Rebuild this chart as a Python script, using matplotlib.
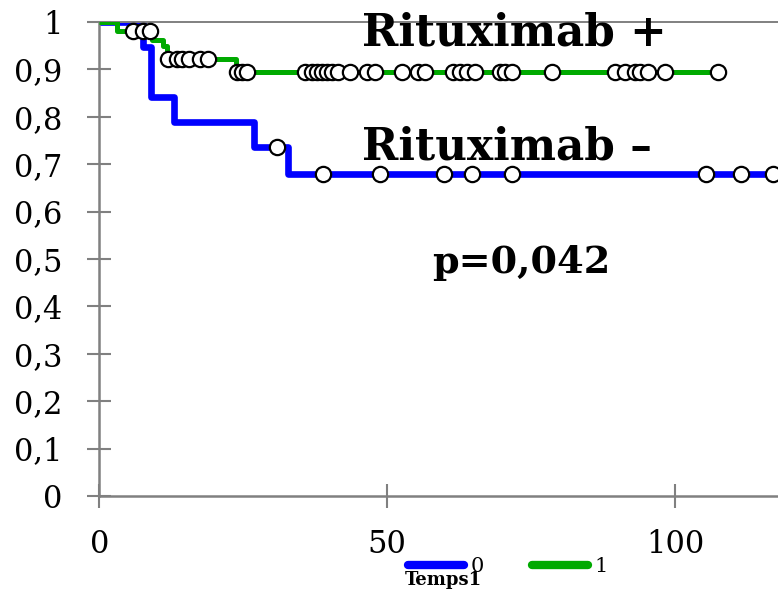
import matplotlib
matplotlib.use("Agg")
import matplotlib.pyplot as plt
from matplotlib.lines import Line2D
import numpy as np

plt.rcParams['font.family'] = ['DejaVu Serif']

# Group 0 (Rituximab -) : step times / survival
blue_times = [0, 7.6, 8.9, 12.9, 26.8, 32.8]
blue_surv = [1.0, 0.947, 0.842, 0.789, 0.737, 0.680]
blue_end = 121
blue_censor = [30.9, 38.8, 48.8, 59.8, 64.7, 71.6, 105.4, 111.4, 117.0]

# Group 1 (Rituximab +)
green_times = [0, 3.1, 9.15, 11.1, 11.7, 23.8]
green_surv = [1.0, 0.980, 0.961, 0.949, 0.921, 0.895]
green_end = 107.5
green_censor = [5.85, 7.6, 8.8, 11.9, 13.5, 14.4, 15.5, 17.5, 18.8, 24.0, 24.8,
                25.7, 35.8, 37.0, 37.8, 38.7, 39.6, 40.5, 41.5, 43.6, 46.5, 47.9,
                52.6, 55.4, 56.6, 61.5, 62.7, 63.9, 65.3, 69.6, 70.5, 71.7, 78.6,
                89.6, 91.3, 93.0, 93.9, 95.3, 98.3, 107.5]

yticks = [0, 0.1, 0.2, 0.3, 0.4, 0.5, 0.6, 0.7, 0.8, 0.9, 1.0]
ytick_labels = ["0", "0,1", "0,2", "0,3", "0,4", "0,5", "0,6", "0,7", "0,8", "0,9", "1"]
xticks = [0, 50, 100]
xtick_labels = ["0", "50", "100"]

BLUE = "#0000FF"
GREEN = "#00AA00"
GRAY = "#808080"

fig = plt.figure(figsize=(7.78, 5.90), dpi=100)
ax = fig.add_axes([99.3 / 778, 94 / 590, 1 - 99.3 / 778, 474 / 590])


def step_xy(times, surv, end):
    x = list(times) + [end]
    y = list(surv) + [surv[-1]]
    return x, y


def surv_at(times, surv, t):
    idx = np.searchsorted(times, t, side='right') - 1
    return np.array(surv)[idx]


bx, by = step_xy(blue_times, blue_surv, blue_end)
gx, gy = step_xy(green_times, green_surv, green_end)
ax.step(bx, by, where='post', color=BLUE, lw=4.8, solid_joinstyle='round',
        solid_capstyle='butt', zorder=2)
ax.step(gx, gy, where='post', color=GREEN, lw=3.6, solid_joinstyle='round',
        solid_capstyle='butt', zorder=3)

ax.plot(blue_censor, surv_at(blue_times, blue_surv, blue_censor), 'o', ms=11,
        mfc='white', mec='black', mew=1.6, zorder=4, clip_on=False)
ax.plot(green_censor, surv_at(green_times, green_surv, green_censor), 'o', ms=11,
        mfc='white', mec='black', mew=1.6, zorder=4, clip_on=False)

ax.set_xlim(0, 679 / 5.76)
ax.set_ylim(0, 1)
ax.set_yticks(yticks)
ax.set_yticklabels(ytick_labels)
ax.set_xticks(xticks)
ax.set_xticklabels(xtick_labels)

for s in ['left', 'bottom']:
    ax.spines[s].set_color(GRAY)
    ax.spines[s].set_linewidth(1.8)
ax.spines['top'].set_color(GRAY)
ax.spines['top'].set_linewidth(1.4)
ax.spines['right'].set_visible(False)
ax.tick_params(axis='both', direction='inout', length=17, width=1.5, color=GRAY,
               labelsize=22)
ax.tick_params(axis='y', pad=18)
ax.tick_params(axis='x', pad=15)

ax.text(45.6, 0.951, "Rituximab +", fontsize=31.5, fontweight='bold',
        va='baseline', ha='left', zorder=5)
ax.text(45.6, 0.709, "Rituximab \u2013", fontsize=31.5, fontweight='bold',
        va='baseline', ha='left', zorder=5)
ax.text(73.3, 0.470, "p=0,042", fontsize=27.5, fontweight='bold',
        va='baseline', ha='center', zorder=5)

handles = [Line2D([], [], color=BLUE, lw=6, solid_capstyle='round'),
           Line2D([], [], color=GREEN, lw=6, solid_capstyle='round')]
fig.legend(handles, ["0", "1"], ncol=2, loc='center',
           bbox_to_anchor=(508 / 778, 23 / 590), frameon=False, fontsize=15,
           handlelength=2.7, handletextpad=0.3, columnspacing=2.3)
fig.text(443 / 778, 10 / 590, "Temps1", fontsize=13, fontweight='bold',
         ha='center', va='center')

fig.savefig("out.png", dpi=100)
